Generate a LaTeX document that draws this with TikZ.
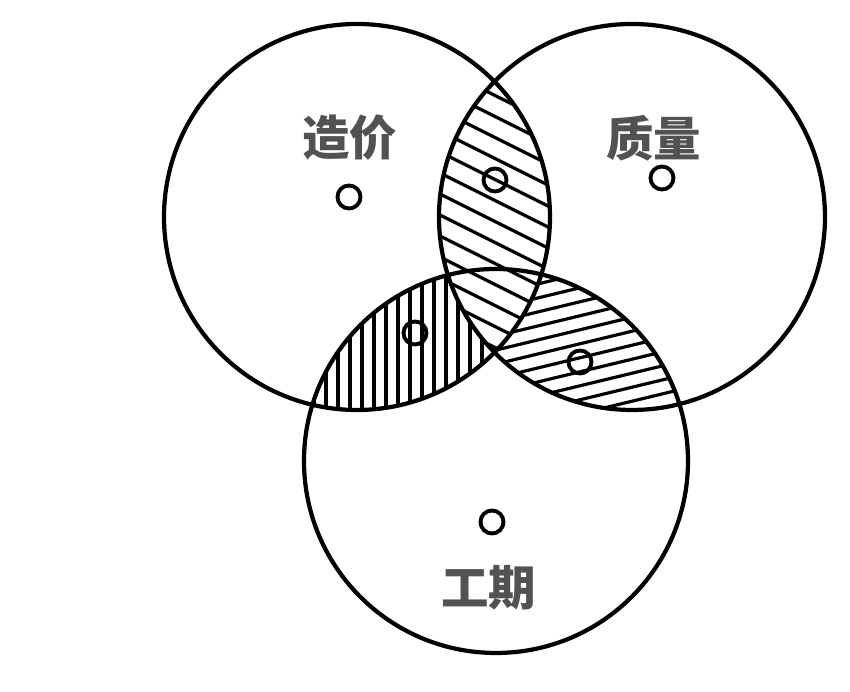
\documentclass[tikz,border=0pt]{standalone}
\usepackage{fontspec}
\newfontfamily\cjk{Noto Sans CJK SC}

\begin{document}
\begin{tikzpicture}[x=0.01cm,y=-0.01cm,
    ring/.style={line width=1.2pt},
    hatch/.style={line width=0.9pt},
    dot/.style={circle,draw,line width=1.1pt,inner sep=0pt,minimum size=0.23cm},
    lab/.style={font=\cjk\fontsize{13.5}{14}\selectfont\bfseries,text=black!68}]
    \useasboundingbox (0,0) rectangle (850,692);

    \coordinate (cost) at (357,217);
    \coordinate (qual) at (632,217);
    \coordinate (time) at (496,461);

	%cost & time
	\begin{scope}
	\clip (cost) circle (193);
	\clip (time) circle (192);
	\foreach \k in {0,...,24}
	    \draw[hatch] (\k*12+290,250) -- (\k*12+290,430);
	\end{scope}

	%quality & time
	\begin{scope}
	\clip (qual) circle (193);
	\clip (time) circle (192);
	\foreach \k in {-12,...,14}
	    \draw[hatch] (430,\k*14+380) -- (720,\k*14+310);
	\end{scope}

	%cost & quality
	\begin{scope}
	\clip (cost) circle (193);
	\clip (qual) circle (193);
	\fill[white] (400,50) rectangle (600,380);
	\foreach \k in {-14,...,10}
	    \draw[hatch] (400,\k*21+300) -- (600,\k*21+400);
	\end{scope}

	\draw[ring] (cost) circle (193);
	\draw[ring] (qual) circle (193);
	\draw[ring] (time) circle (192);

	\node[dot] (c) at (349,197) {};
	\node[dot] (q) at (662,178) {};
	\node[dot] (t) at (492,522) {};
	\node[dot] (cq) at (495,180) {};
	\node[dot] (ct) at (415,333) {};
	\node[dot] (qt) at (580,362) {};

	\node[lab] (costlab) at (350,138) {造价};
	\node[lab] (quallab) at (654,138) {质量};
	\node[lab] (timelab) at (489,588) {工期};

\end{tikzpicture}
\end{document}
